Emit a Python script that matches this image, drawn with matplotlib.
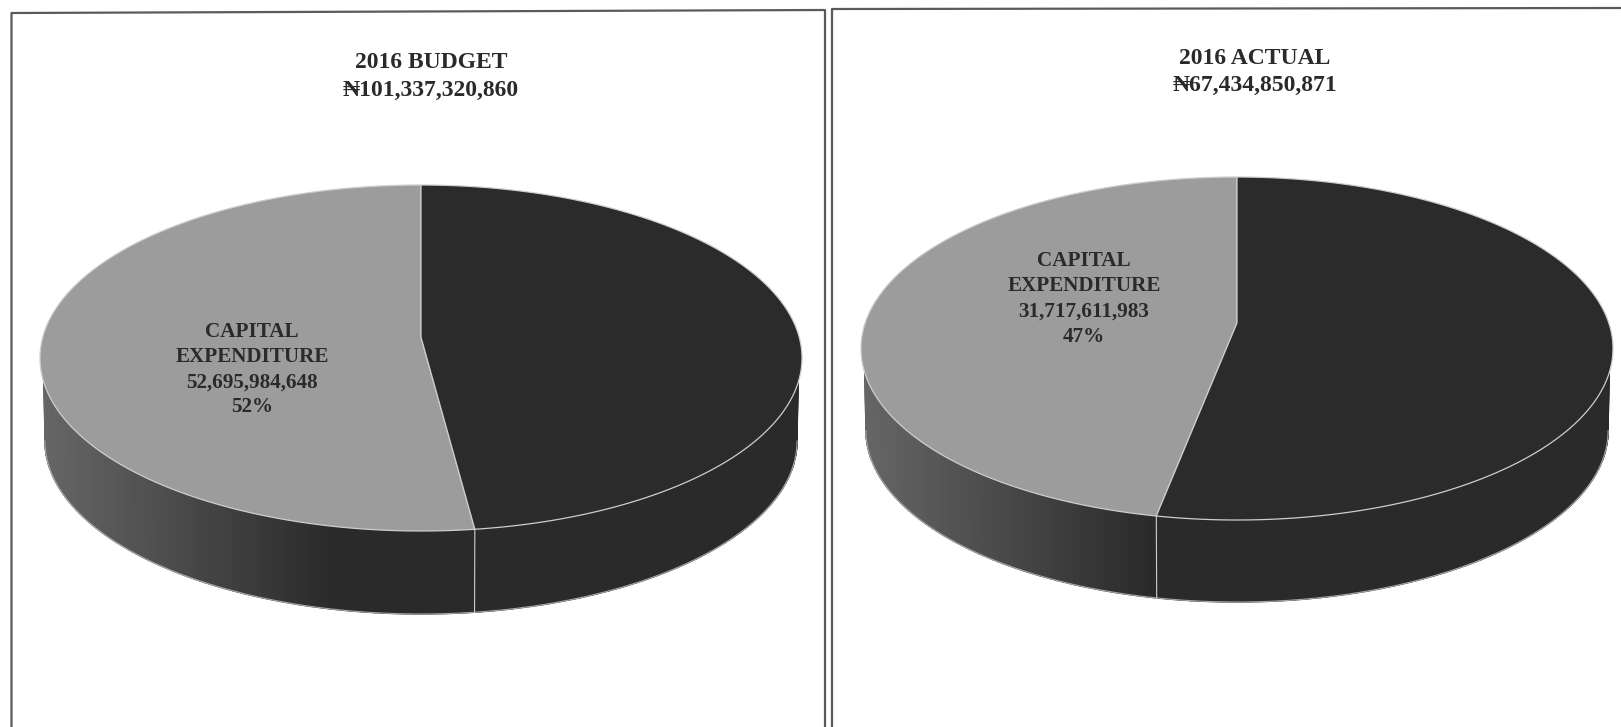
import numpy as np
import matplotlib
matplotlib.use('Agg')
import matplotlib.pyplot as plt
from matplotlib.colors import to_rgb

plt.rcParams['font.family'] = ['Liberation Serif', 'DejaVu Serif']
plt.rcParams['font.weight'] = 'bold'

W, H = 1621, 727

category = 'CAPITAL\nEXPENDITURE'
budget_values = [52695984648, 48641336212]
actual_values = [31717611983, 35717238888]
titles = ['2016 BUDGET', '2016 ACTUAL']

face_colors = ['#9c9c9c', '#2b2b2b']
wall_light = '#666666'
wall_dark = '#2b2a2a'
rim = '#c9cfd2'
ink = '#2a2a2a'
frame = '#5a5a5a'


def disc(theta, tilt):
    # point on the unit circle seen at an angle: the centre moves up, the outline stays put
    s = np.sin(theta)
    return np.sqrt(1 - tilt ** 2) * np.cos(theta) / (1 + tilt * s), (s + tilt) / (1 + tilt * s)


def draw_pie(values, cx, cy, rx, ry, depth, tilt):
    d = depth / ry
    ax = fig.add_axes([(cx - rx) / W, 1 - (cy + ry + depth) / H, 2 * rx / W, (2 * ry + depth) / H])
    ax.set_xlim(-1, 1)
    ax.set_ylim(-1 - d, 1)
    ax.axis('off')

    # side wall of the disc, darker toward the front
    edges = np.radians(np.linspace(180, 360, 181))
    for a, b in zip(edges[:-1], edges[1:]):
        t = np.clip((-np.cos((a + b) / 2) - 0.23) / 0.77, 0, 1)
        c = np.array(to_rgb(wall_dark)) * (1 - t) + np.array(to_rgb(wall_light)) * t
        xa, xb = np.cos(a), np.cos(b)
        ya, yb = np.sin(a), np.sin(b)
        ax.fill([xa * 0.99, xb * 0.99, xb * 0.987, xa * 0.987], [ya, yb, yb - d, ya - d],
                color=c, lw=1.0, zorder=1, clip_on=False)
    arc = np.radians(np.linspace(180, 360, 240))
    ax.plot(np.cos(arc) * 0.987, np.sin(arc) - d, color='#a8a8a8', lw=0.8, zorder=1, clip_on=False)

    # slices start at twelve o'clock and run counter-clockwise
    start = 90.0
    for v, color in zip(values, face_colors):
        sweep = 360.0 * v / sum(values)
        th = np.radians(np.linspace(start, start + sweep, 200))
        x, y = disc(th, tilt)
        ax.fill(np.r_[0, x], np.r_[tilt, y], facecolor=color, edgecolor=rim, lw=0.9, zorder=2,
                clip_on=False)
        start += sweep

    # seam on the wall under the slice boundary
    end = np.radians(90.0 + 360.0 * values[0] / sum(values))
    xe, ye = disc(end, tilt)
    ax.plot([xe, xe * 0.995], [ye, ye - d], color=rim, lw=0.8, zorder=3)


def money(v):
    return f'{v:,}'


fig = plt.figure(figsize=(W / 100, H / 100), dpi=100, facecolor='white')

page = fig.add_axes([0, 0, 1, 1])
page.set_xlim(0, W)
page.set_ylim(H, 0)
page.axis('off')

# panel frames, both run off the bottom of the page
page.plot([11.5, 11.5, 825, 825], [H, 13, 10, H], color=frame, lw=1.6)
page.plot([832, 832, W], [H, 9, 8], color=frame, lw=1.6)

draw_pie(budget_values, 421, 358, 381, 173, 83, 0.12)
draw_pie(actual_values, 1237, 348.5, 376, 171.5, 82, 0.149)

page.set_zorder(5)
page.text(431, 63, titles[0], ha='center', va='center', fontsize=17, color=ink)
page.text(431, 90, '\u20a6' + money(sum(budget_values)), ha='center', va='center', fontsize=17, color=ink)
page.text(1255, 58, titles[1], ha='center', va='center', fontsize=17, color=ink)
page.text(1255, 85, '\u20a6' + money(sum(actual_values)), ha='center', va='center', fontsize=17, color=ink)

for x, y, vals in [(252, 369.5, budget_values), (1084, 299, actual_values)]:
    share = round(100 * vals[0] / sum(vals))
    page.text(x, y, f'{category}\n{money(vals[0])}\n{share}%', ha='center', va='center',
              fontsize=15.2, color=ink, linespacing=1.35)

fig.savefig('out.png', dpi=100, facecolor='white')
